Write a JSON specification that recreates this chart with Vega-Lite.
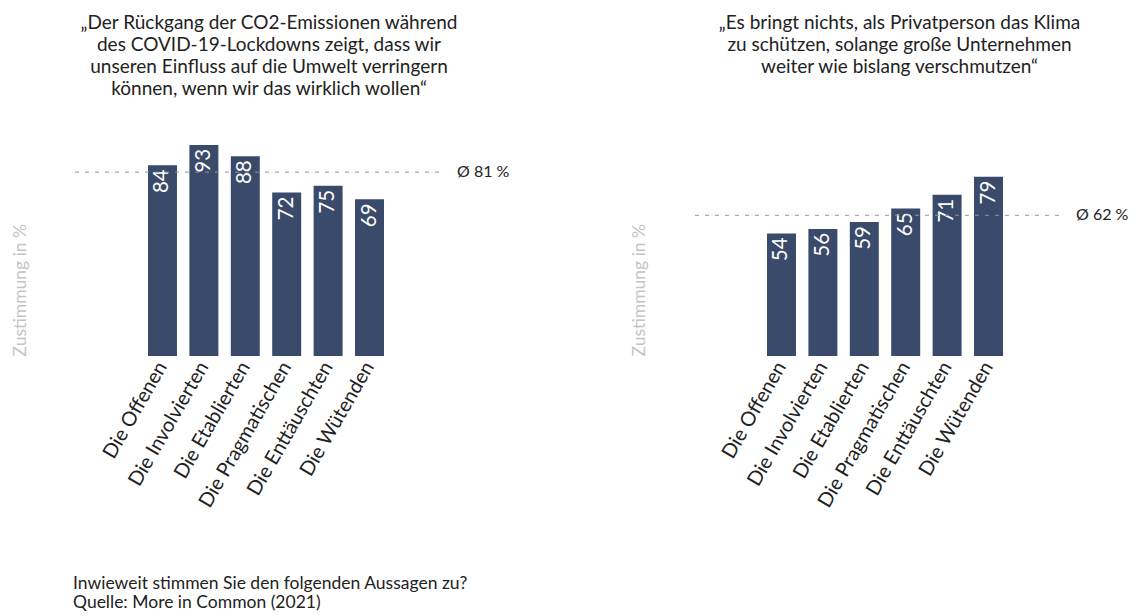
{
  "$schema": "https://vega.github.io/schema/vega-lite/v6.json",
  "autosize": {"type": "pad"},
  "padding": {"left": 11, "top": 14, "right": 4, "bottom": 4},
  "background": "white",
  "config": {
    "view": {"stroke": null},
    "font": "Lato",
    "axis": {"grid": false}
  },
  "title": {
    "text": ["Inwieweit stimmen Sie den folgenden Aussagen zu?", "Quelle: More in Common (2021)"],
    "orient": "bottom",
    "anchor": "start",
    "frame": "group",
    "fontSize": 17.5,
    "fontWeight": "normal",
    "color": "#222222",
    "lineHeight": 19,
    "dx": 0,
    "offset": 65
  },
  "spacing": 120,
  "hconcat": [
    {
      "width": 366,
      "height": 227,
      "title": {
        "text": ["„Der Rückgang der CO2-Emissionen während", "des COVID-19-Lockdowns zeigt, dass wir", "unseren Einfluss auf die Umwelt verringern", "können, wenn wir das wirklich wollen“"],
        "fontSize": 19,
        "fontWeight": "normal",
        "color": "#222222",
        "lineHeight": 22,
        "dx": 13,
        "offset": 30
      },
      "data": {"values": [
        {"Gruppe": "Die Offenen", "Wert": 84},
        {"Gruppe": "Die Involvierten", "Wert": 93},
        {"Gruppe": "Die Etablierten", "Wert": 88},
        {"Gruppe": "Die Pragmatischen", "Wert": 72},
        {"Gruppe": "Die Enttäuschten", "Wert": 75},
        {"Gruppe": "Die Wütenden", "Wert": 69}
      ]},
      "encoding": {
        "x": {"field": "Gruppe", "type": "nominal", "sort": null,
          "scale": {"range": [75, 311], "paddingInner": 0.3, "paddingOuter": 0},
          "axis": {"title": null, "labelAngle": -60, "labelFontSize": 20, "labelColor": "#222222", "ticks": false, "domain": false, "labelPadding": 7}},
        "y": {"field": "Wert", "type": "quantitative", "scale": {"domain": [0, 100]},
          "axis": {"title": "Zustimmung in %", "titleAnchor": "start", "titleColor": "#c4c4c4", "titleFontSize": 17.5, "titleFontWeight": "normal", "labels": false, "ticks": false, "domain": false, "grid": false, "titlePadding": 44}}
      },
      "layer": [
        {"mark": {"type": "bar", "color": "#3a4a6b"}},
        {"mark": {"type": "text", "angle": 270, "align": "right", "baseline": "middle", "dx": -4, "color": "white", "fontSize": 20.5},
          "encoding": {"text": {"field": "Wert", "type": "quantitative"}}},
        {"data": {"values": [{"avg": 81, "label": "Ø 81 %"}]},
          "mark": {"type": "rule", "strokeDash": [4, 6], "color": "#8e94a4", "strokeWidth": 1},
          "encoding": {"x": null, "y": {"field": "avg", "type": "quantitative"}}},
        {"data": {"values": [{"avg": 81, "label": "Ø 81 %"}]},
          "mark": {"type": "text", "align": "left", "baseline": "middle", "dx": 18, "fontSize": 16, "color": "#222222"},
          "encoding": {"x": {"value": "width"}, "y": {"field": "avg", "type": "quantitative"}, "text": {"field": "label"}}}
      ]
    },
    {
      "width": 367,
      "height": 227,
      "title": {
        "text": ["„Es bringt nichts, als Privatperson das Klima", "zu schützen, solange große Unternehmen", "weiter wie bislang verschmutzen“", ""],
        "fontSize": 19,
        "fontWeight": "normal",
        "color": "#222222",
        "lineHeight": 22,
        "dx": 24,
        "offset": 30
      },
      "data": {"values": [
        {"Gruppe": "Die Offenen", "Wert": 54},
        {"Gruppe": "Die Involvierten", "Wert": 56},
        {"Gruppe": "Die Etablierten", "Wert": 59},
        {"Gruppe": "Die Pragmatischen", "Wert": 65},
        {"Gruppe": "Die Enttäuschten", "Wert": 71},
        {"Gruppe": "Die Wütenden", "Wert": 79}
      ]},
      "encoding": {
        "x": {"field": "Gruppe", "type": "nominal", "sort": null,
          "scale": {"range": [75, 311], "paddingInner": 0.3, "paddingOuter": 0},
          "axis": {"title": null, "labelAngle": -60, "labelFontSize": 20, "labelColor": "#222222", "ticks": false, "domain": false, "labelPadding": 7}},
        "y": {"field": "Wert", "type": "quantitative", "scale": {"domain": [0, 100]},
          "axis": {"title": "Zustimmung in %", "titleAnchor": "start", "titleColor": "#c4c4c4", "titleFontSize": 17.5, "titleFontWeight": "normal", "labels": false, "ticks": false, "domain": false, "grid": false, "titlePadding": 44}}
      },
      "layer": [
        {"mark": {"type": "bar", "color": "#3a4a6b"}},
        {"mark": {"type": "text", "angle": 270, "align": "right", "baseline": "middle", "dx": -4, "color": "white", "fontSize": 20.5},
          "encoding": {"text": {"field": "Wert", "type": "quantitative"}}},
        {"data": {"values": [{"avg": 62, "label": "Ø 62 %"}]},
          "mark": {"type": "rule", "strokeDash": [4, 6], "color": "#8e94a4", "strokeWidth": 1},
          "encoding": {"x": null, "y": {"field": "avg", "type": "quantitative"}}},
        {"data": {"values": [{"avg": 62, "label": "Ø 62 %"}]},
          "mark": {"type": "text", "align": "left", "baseline": "middle", "dx": 17, "fontSize": 16, "color": "#222222"},
          "encoding": {"x": {"value": "width"}, "y": {"field": "avg", "type": "quantitative"}, "text": {"field": "label"}}}
      ]
    }
  ]
}
